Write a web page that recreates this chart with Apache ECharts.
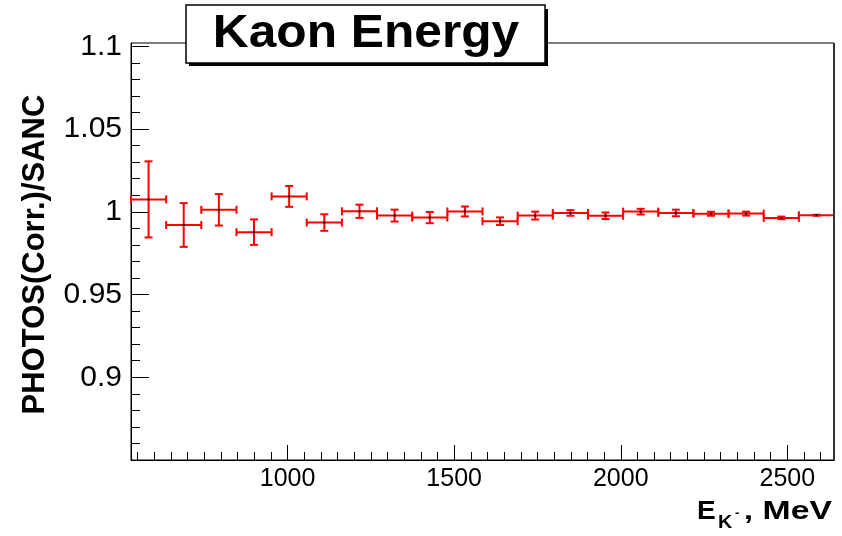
<!DOCTYPE html>
<html>
<head>
<meta charset="utf-8">
<script src="https://cdn.jsdelivr.net/npm/echarts@6/dist/echarts.min.js"></script>
<style>
html,body{margin:0;padding:0;background:#fff;}
#chart{width:842px;height:536px;}
</style>
</head>
<body>
<div id="chart"></div>
<script>
// ---- data ----
const binEdges = [530, 635.5, 741, 846.5, 952, 1057.5, 1163, 1268.5, 1374, 1479.5, 1585,
                  1690.5, 1796, 1901.5, 2007, 2112.5, 2218, 2323.5, 2429, 2534.5, 2640];
const ratio    = [1.0075, 0.9920, 1.0012, 0.9877, 1.0093, 0.9935, 1.0003, 0.9977, 0.9965, 1.0002,
                  0.9943, 0.9977, 0.9993, 0.9976, 1.0001, 0.9993, 0.9988, 0.9989, 0.9963, 0.9979];
const ratioErr = [0.0230, 0.0132, 0.0095, 0.0077, 0.0063, 0.0050, 0.0040, 0.0036, 0.0034, 0.0030,
                  0.0023, 0.0024, 0.0017, 0.0020, 0.0017, 0.0020, 0.0012, 0.0012, 0.0008, 0.0003];

const xTickLabels = [1000, 1500, 2000, 2500];
const yTickLabels = [0.9, 0.95, 1, 1.05, 1.1];
const xMinorTicks = [];
for (let v = 550; v <= 2600; v += 50) xMinorTicks.push(v);
const yMinorTicks = [];
for (let k = 86; k <= 110; k++) yMinorTicks.push(k / 100);

const titleText = 'Kaon Energy';
const yTitle = 'PHOTOS(Corr.)/SANC';

// ---- build ----
const rows = ratio.map((r, i) => [
  (binEdges[i] + binEdges[i + 1]) / 2, r, binEdges[i], binEdges[i + 1], ratioErr[i]
]);

const FONT = '"Liberation Sans", Arial, Helvetica, sans-serif';
const chart = echarts.init(document.getElementById('chart'), null, {renderer: 'canvas'});

function renderItem(params, api) {
  const xc = api.value(0), y = api.value(1), xl = api.value(2), xh = api.value(3), e = api.value(4);
  const pL = api.coord([xl, y]), pH = api.coord([xh, y]);
  const pT = api.coord([xc, y + e]), pB = api.coord([xc, y - e]);
  const pC = api.coord([xc, y]);
  const st = {stroke: '#ff0000', lineWidth: 2};
  const cap = 4;
  const L = (x1, y1, x2, y2) => ({type: 'line', shape: {x1, y1, x2, y2}, style: st});
  return {
    type: 'group',
    children: [
      L(pL[0], pL[1], pH[0], pH[1]),
      L(pL[0], pL[1] - cap, pL[0], pL[1] + cap),
      L(pH[0], pH[1] - cap, pH[0], pH[1] + cap),
      L(pT[0], pT[1], pB[0], pB[1]),
      L(pT[0] - cap, pT[1], pT[0] + cap, pT[1]),
      L(pB[0] - cap, pB[1], pB[0] + cap, pB[1]),
      {type: 'rect', shape: {x: pC[0] - 1, y: pC[1] - 1, width: 2, height: 2}, style: {fill: '#000'}}
    ]
  };
}

const axisLineStyle = {color: '#000', width: 1};

const option = {
  animation: false,
  backgroundColor: '#fff',
  grid: {left: 131, right: 8, top: 43, bottom: 76, show: true, borderColor: '#000', borderWidth: 1, backgroundColor: 'transparent'},
  xAxis: [
    {
      type: 'value', min: 530, max: 2640, position: 'bottom',
      axisLine: {show: true, lineStyle: axisLineStyle},
      axisTick: {show: true, inside: true, length: 15, customValues: xTickLabels, lineStyle: axisLineStyle},
      axisLabel: {show: true, customValues: xTickLabels, formatter: v => String(v),
                  fontFamily: FONT, fontSize: 25, color: '#000', margin: 7},
      splitLine: {show: false}
    },
    {
      type: 'value', min: 530, max: 2640, position: 'bottom',
      axisLine: {show: false},
      axisTick: {show: true, inside: true, length: 8, customValues: xMinorTicks, lineStyle: axisLineStyle},
      axisLabel: {show: false},
      splitLine: {show: false}
    }
  ],
  yAxis: [
    {
      type: 'value', min: 0.85, max: 1.102, position: 'left',
      axisLine: {show: true, lineStyle: axisLineStyle},
      axisTick: {show: true, inside: true, length: 18, customValues: yTickLabels, lineStyle: axisLineStyle},
      axisLabel: {show: true, customValues: yTickLabels, formatter: v => String(v),
                  fontFamily: FONT, fontSize: 30, color: '#000', margin: 9, padding: [6, 0, 0, 0]},
      splitLine: {show: false},
      name: yTitle, nameLocation: 'middle', nameGap: 80, nameRotate: 90,
      nameTextStyle: {fontFamily: FONT, fontSize: 31, fontWeight: 'bold', color: '#000', padding: [0, 6, 0, 0]}
    },
    {
      type: 'value', min: 0.85, max: 1.102, position: 'left',
      axisLine: {show: false},
      axisTick: {show: true, inside: true, length: 9, customValues: yMinorTicks, lineStyle: axisLineStyle},
      axisLabel: {show: false},
      splitLine: {show: false}
    }
  ],
  series: [{
    type: 'custom',
    xAxisIndex: 0, yAxisIndex: 0,
    renderItem: renderItem,
    data: rows,
    clip: false,
    z: 5
  }],
  graphic: [
    {type: 'line', z: 50, shape: {x1: 834, y1: 43, x2: 834, y2: 461}, style: {stroke: '#333', lineWidth: 2}},
    // title box with shadow
    {type: 'rect', z: 60, shape: {x: 189, y: 9, width: 359, height: 57}, style: {fill: '#000'}},
    {type: 'rect', z: 61, shape: {x: 186, y: 5, width: 359, height: 58}, style: {fill: '#fff', stroke: '#000', lineWidth: 1.5}},
    {type: 'text', z: 62, x: 366, y: 34, scaleX: 1.08,
     style: {text: titleText, x: 0, y: 0, align: 'center', verticalAlign: 'middle',
             font: 'bold 46px ' + FONT, fill: '#000'}},
    // x-axis title  E_{K^-}, MeV
    {type: 'text', z: 62, x: 697, y: 512, scaleX: 1.12,
     style: {text: 'E', x: 0, y: 0, align: 'left', verticalAlign: 'middle', font: 'bold 25px ' + FONT, fill: '#000'}},
    {type: 'text', z: 62, x: 718, y: 523, scaleX: 1.1,
     style: {text: 'K', x: 0, y: 0, align: 'left', verticalAlign: 'middle', font: 'bold 18px ' + FONT, fill: '#000'}},
    {type: 'text', z: 62, x: 735, y: 513, scaleX: 1.0,
     style: {text: '-', x: 0, y: 0, align: 'left', verticalAlign: 'middle', font: 'bold 13px ' + FONT, fill: '#000'}},
    {type: 'text', z: 62, x: 832, y: 512, scaleX: 1.35,
     style: {text: ', MeV', x: 0, y: 0, align: 'right', verticalAlign: 'middle', font: 'bold 25px ' + FONT, fill: '#000'}}
  ]
};
chart.setOption(option);
</script>
</body>
</html>
